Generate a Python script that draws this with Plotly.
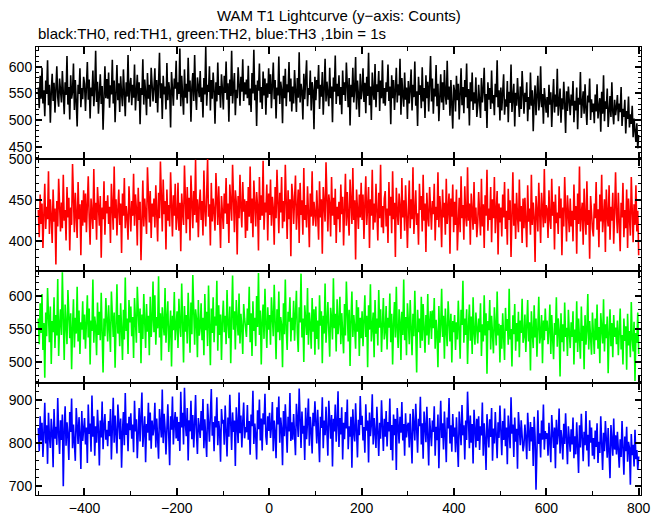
import numpy as np
import plotly.graph_objects as go
from plotly.subplots import make_subplots

# ---- data: counts per bin (TH0..TH3) ----
th0 = [
561, 522, 583, 540, 598, 531, 556, 507, 574, 549, 612, 528, 566, 495, 553, 587, 536, 570, 514, 559, 601, 543, 525, 578, 548,
533, 592, 556, 511, 571, 547, 620, 529, 562, 501, 584, 540, 553, 606, 519, 575, 535, 488, 566, 549, 597, 524, 560, 539, 581,
568, 517, 552, 609, 538, 576, 503, 561, 545, 593, 526, 557, 630, 534, 572, 512, 549, 586, 530, 564, 482, 555, 601, 541, 577,
540, 589, 523, 565, 548, 613, 531, 574, 496, 558, 603, 537, 569, 515, 582, 549, 526, 595, 560, 507, 571, 544, 622, 533, 563,
579, 528, 566, 542, 604, 518, 557, 585, 536, 571, 492, 560, 547, 614, 529, 576, 551, 509, 588, 540, 566, 525, 598, 553, 535,
561, 597, 532, 575, 514, 556, 626, 541, 569, 502, 583, 548, 563, 520, 607, 537, 571, 555, 486, 590, 544, 527, 578, 559, 611,
538, 571, 549, 634, 526, 583, 557, 510, 595, 542, 568, 531, 617, 553, 574, 497, 561, 588, 536, 622, 549, 519, 580, 565, 543,
592, 534, 561, 505, 579, 548, 637, 527, 566, 553, 601, 518, 575, 540, 589, 556, 493, 571, 535, 608, 547, 564, 523, 586, 558,
520, 583, 551, 610, 538, 569, 497, 576, 545, 630, 531, 562, 588, 509, 557, 541, 599, 566, 527, 581, 553, 614, 536, 571, 548,
576, 541, 602, 528, 559, 515, 588, 550, 632, 537, 566, 489, 574, 555, 606, 533, 562, 521, 591, 546, 578, 510, 569, 542, 597,
549, 586, 522, 565, 608, 539, 575, 503, 561, 546, 619, 530, 572, 557, 494, 583, 541, 596, 526, 567, 552, 609, 535, 578, 516,
563, 531, 594, 548, 515, 579, 542, 627, 533, 568, 554, 501, 587, 539, 573, 612, 526, 560, 547, 593, 518, 571, 556, 483, 581,
537, 575, 559, 603, 521, 566, 544, 590, 510, 557, 615, 535, 572, 549, 526, 598, 541, 563, 496, 580, 553, 621, 530, 568, 545,
584, 529, 562, 511, 593, 547, 571, 536, 608, 552, 524, 579, 490, 566, 543, 598, 533, 557, 618, 520, 574, 548, 506, 587, 539,
556, 597, 534, 570, 513, 581, 545, 626, 528, 563, 500, 589, 551, 538, 605, 524, 567, 553, 592, 517, 574, 541, 612, 531, 560,
527, 571, 553, 604, 536, 563, 492, 584, 541, 575, 519, 556, 598, 533, 567, 546, 615, 510, 579, 548, 525, 589, 538, 561, 502,
573, 531, 558, 595, 518, 566, 543, 610, 527, 554, 489, 581, 547, 565, 522, 599, 535, 560, 504, 584, 541, 572, 516, 553, 620,
535, 578, 512, 559, 544, 603, 526, 568, 498, 551, 586, 533, 571, 519, 594, 547, 529, 611, 538, 563, 508, 575, 542, 484, 566,
554, 516, 583, 537, 568, 501, 549, 597, 528, 562, 513, 575, 543, 606, 522, 558, 490, 571, 535, 589, 519, 552, 531, 580, 506,
527, 566, 541, 504, 579, 533, 555, 598, 517, 549, 485, 571, 538, 560, 521, 593, 531, 547, 509, 568, 543, 612, 524, 556, 499,
561, 518, 547, 586, 510, 539, 525, 573, 496, 553, 532, 604, 515, 544, 568, 488, 551, 527, 579, 540, 506, 563, 521, 592, 535,
512, 551, 534, 571, 498, 543, 520, 589, 527, 556, 479, 538, 565, 509, 547, 583, 518, 536, 601, 524, 549, 493, 560, 531, 514,
543, 505, 566, 529, 552, 487, 538, 577, 514, 548, 525, 596, 508, 534, 559, 495, 541, 520, 572, 531, 476, 554, 517, 563, 529,
509, 548, 527, 573, 496, 536, 518, 561, 483, 542, 529, 590, 504, 531, 554, 512, 567, 521, 491, 546, 533, 578, 500, 539, 515,
531, 494, 548, 516, 567, 503, 525, 541, 478, 553, 512, 584, 498, 535, 521, 559, 487, 529, 545, 506, 571, 515, 492, 538, 509,
524, 547, 498, 531, 515, 562, 489, 521, 506, 538, 475, 517, 502, 544, 486, 511, 493, 527, 468, 503, 481, 459, 494, 447, 472,
]
th1 = [
438, 405, 457, 421, 446, 392, 433, 470, 415, 442, 427, 485, 409, 451, 430, 398, 463, 424, 440, 372, 449, 418, 476, 434, 412,
447, 416, 481, 425, 438, 401, 466, 429, 453, 389, 441, 420, 494, 432, 411, 459, 436, 404, 472, 427, 445, 383, 450, 419, 462,
423, 458, 411, 444, 479, 429, 396, 452, 437, 415, 488, 426, 447, 402, 466, 433, 419, 455, 380, 441, 427, 473, 408, 449, 434,
456, 421, 442, 398, 470, 435, 414, 491, 428, 451, 407, 439, 463, 420, 446, 386, 458, 431, 477, 416, 443, 429, 402, 467, 438,
412, 449, 431, 482, 419, 457, 440, 395, 465, 426, 448, 377, 437, 474, 418, 452, 433, 409, 490, 441, 423, 461, 404, 446, 430,
452, 417, 468, 436, 400, 459, 428, 497, 441, 412, 475, 433, 449, 390, 463, 425, 444, 418, 484, 437, 406, 456, 431, 470, 414,
429, 471, 413, 447, 388, 458, 435, 420, 492, 442, 410, 466, 427, 453, 401, 480, 438, 416, 461, 432, 499, 423, 451, 405, 444,
463, 426, 449, 407, 486, 439, 418, 457, 500, 430, 445, 395, 471, 424, 452, 436, 413, 483, 441, 420, 467, 429, 392, 455, 437,
415, 458, 434, 477, 421, 446, 398, 469, 439, 425, 493, 433, 411, 462, 447, 384, 455, 428, 481, 440, 417, 472, 436, 451, 404,
449, 413, 466, 430, 491, 422, 452, 405, 474, 437, 418, 460, 443, 389, 478, 426, 456, 431, 498, 414, 447, 435, 469, 401, 458,
432, 475, 419, 454, 440, 396, 466, 428, 487, 443, 410, 459, 435, 478, 416, 449, 424, 493, 438, 403, 462, 427, 451, 382, 470,
455, 421, 446, 480, 414, 439, 463, 398, 471, 432, 450, 408, 489, 426, 444, 417, 467, 436, 393, 458, 430, 485, 419, 448, 437,
418, 462, 437, 402, 473, 429, 451, 385, 466, 440, 424, 496, 433, 412, 457, 445, 406, 478, 431, 453, 420, 464, 398, 442, 427,
448, 411, 469, 433, 454, 395, 441, 482, 419, 460, 430, 407, 475, 438, 421, 489, 426, 450, 378, 463, 436, 415, 457, 429, 471,
426, 457, 403, 445, 479, 420, 438, 466, 392, 451, 431, 487, 414, 446, 423, 470, 436, 401, 459, 428, 493, 417, 443, 410, 452,
461, 418, 440, 398, 472, 431, 454, 410, 485, 427, 447, 381, 465, 436, 420, 458, 442, 403, 477, 429, 450, 413, 468, 434, 392,
437, 474, 416, 451, 427, 490, 409, 443, 462, 420, 434, 396, 470, 438, 455, 412, 481, 425, 446, 387, 459, 431, 418, 466, 440,
414, 449, 433, 470, 401, 442, 426, 484, 417, 455, 436, 393, 463, 429, 447, 408, 476, 421, 439, 458, 385, 452, 430, 469, 411,
448, 420, 463, 389, 437, 453, 411, 479, 428, 444, 402, 467, 431, 418, 490, 425, 446, 396, 458, 433, 414, 472, 421, 441, 405,
422, 460, 434, 407, 476, 418, 445, 392, 456, 431, 487, 413, 440, 426, 466, 399, 451, 428, 478, 410, 437, 461, 384, 446, 423,
441, 406, 457, 429, 472, 415, 437, 396, 464, 426, 450, 381, 433, 484, 419, 446, 403, 459, 430, 411, 475, 424, 443, 398, 452,
416, 453, 431, 393, 468, 424, 440, 408, 481, 420, 447, 429, 375, 455, 436, 412, 471, 427, 398, 459, 433, 417, 488, 422, 444,
439, 404, 462, 427, 415, 476, 431, 448, 390, 457, 422, 435, 409, 467, 428, 452, 383, 441, 418, 478, 426, 400, 456, 433, 411,
452, 418, 437, 400, 469, 426, 443, 385, 458, 421, 491, 412, 434, 447, 396, 464, 429, 408, 473, 420, 438, 379, 455, 427, 415,
406, 446, 428, 472, 414, 439, 393, 457, 424, 481, 411, 436, 451, 387, 463, 430, 418, 468, 402, 442, 425, 459, 397, 435, 484,
433, 410, 459, 421, 388, 447, 429, 471, 405, 438, 416, 463, 392, 452, 425, 407, 478, 431, 399, 445, 420, 468, 412, 437, 383,
]
th2 = [
566, 527, 589, 544, 603, 518, 559, 476, 575, 539, 612, 551, 530, 584, 497, 562, 545, 598, 521, 571, 540, 626, 509, 556, 580,
541, 636, 565, 503, 587, 548, 527, 609, 559, 536, 574, 489, 553, 595, 522, 567, 543, 614, 531, 578, 512, 560, 549, 592, 534,
572, 520, 558, 601, 537, 581, 496, 563, 547, 625, 529, 569, 553, 510, 590, 541, 576, 533, 605, 552, 484, 566, 539, 597, 558,
531, 586, 549, 515, 607, 562, 538, 575, 491, 556, 618, 543, 571, 524, 589, 550, 503, 579, 534, 628, 547, 566, 512, 594, 560,
584, 539, 568, 506, 597, 550, 529, 614, 561, 544, 581, 498, 572, 535, 603, 555, 521, 588, 546, 570, 510, 599, 538, 563, 622,
545, 601, 526, 568, 551, 630, 537, 574, 502, 583, 559, 540, 612, 529, 566, 592, 515, 557, 578, 493, 570, 548, 606, 533, 562,
577, 521, 596, 555, 538, 619, 563, 499, 585, 546, 571, 528, 605, 559, 514, 590, 542, 632, 553, 526, 580, 565, 507, 594, 540,
552, 589, 533, 567, 510, 603, 548, 576, 524, 616, 561, 495, 581, 544, 598, 530, 569, 555, 623, 517, 586, 541, 572, 503, 564,
593, 545, 570, 527, 609, 558, 536, 584, 498, 565, 631, 549, 577, 519, 594, 562, 540, 604, 528, 573, 553, 512, 588, 566, 546,
538, 581, 556, 614, 530, 574, 509, 592, 547, 567, 524, 600, 553, 635, 541, 578, 496, 563, 587, 535, 611, 558, 521, 583, 549,
571, 526, 598, 552, 539, 617, 562, 504, 580, 545, 607, 533, 568, 556, 492, 589, 542, 625, 550, 518, 576, 561, 598, 531, 567,
548, 593, 532, 571, 608, 544, 515, 583, 560, 634, 537, 566, 500, 586, 553, 541, 612, 526, 575, 557, 520, 597, 546, 580, 511,
584, 535, 563, 519, 601, 555, 577, 498, 570, 543, 619, 529, 561, 591, 547, 508, 582, 566, 534, 627, 551, 573, 516, 595, 542,
560, 599, 527, 574, 549, 513, 588, 540, 622, 555, 531, 579, 494, 565, 607, 538, 571, 552, 520, 594, 546, 583, 509, 567, 536,
577, 524, 563, 601, 538, 570, 492, 586, 549, 618, 531, 559, 575, 507, 594, 543, 566, 525, 609, 552, 580, 515, 561, 597, 534,
546, 585, 519, 567, 552, 604, 530, 573, 496, 558, 591, 537, 614, 548, 521, 580, 562, 503, 576, 541, 625, 533, 568, 510, 589,
562, 527, 594, 548, 510, 573, 539, 608, 555, 484, 579, 545, 566, 521, 599, 532, 588, 550, 514, 571, 540, 603, 526, 560, 577,
535, 578, 551, 597, 520, 564, 543, 492, 585, 529, 556, 611, 538, 570, 505, 581, 547, 524, 592, 558, 531, 573, 499, 562, 545,
571, 518, 560, 534, 593, 547, 505, 579, 556, 623, 529, 566, 541, 580, 497, 553, 587, 532, 569, 512, 598, 544, 526, 575, 538,
528, 566, 545, 589, 509, 557, 531, 601, 540, 574, 482, 562, 548, 594, 519, 570, 536, 513, 583, 551, 525, 607, 540, 558, 499,
556, 520, 574, 539, 503, 582, 547, 565, 526, 611, 534, 550, 493, 571, 542, 588, 517, 559, 531, 576, 507, 563, 544, 596, 529,
539, 572, 515, 553, 594, 531, 560, 487, 577, 544, 521, 586, 537, 566, 508, 552, 599, 528, 541, 571, 498, 563, 533, 581, 547,
563, 527, 548, 587, 512, 571, 535, 504, 559, 541, 598, 523, 566, 549, 478, 574, 530, 557, 516, 590, 538, 552, 509, 579, 544,
521, 560, 538, 577, 496, 549, 529, 592, 515, 566, 542, 505, 584, 532, 555, 489, 571, 526, 548, 603, 519, 562, 537, 511, 575,
549, 512, 566, 533, 587, 520, 553, 498, 574, 541, 528, 595, 516, 557, 536, 569, 483, 545, 580, 524, 559, 507, 571, 538, 552,
527, 563, 510, 548, 581, 519, 541, 496, 566, 532, 554, 488, 573, 525, 547, 507, 591, 535, 516, 561, 471, 544, 529, 575, 512,
]
th3 = [
835, 781, 862, 806, 847, 768, 824, 893, 799, 841, 752, 870, 815, 789, 856, 827, 744, 879, 810, 838, 796, 904, 822, 775, 853,
807, 866, 700, 831, 885, 794, 848, 819, 761, 872, 826, 903, 788, 843, 812, 759, 881, 833, 798, 860, 822, 740, 874, 805, 849,
858, 797, 836, 754, 889, 821, 845, 780, 910, 815, 862, 771, 839, 801, 877, 829, 748, 852, 813, 896, 786, 840, 867, 808, 831,
793, 851, 816, 879, 762, 838, 905, 801, 864, 822, 776, 889, 834, 809, 857, 743, 826, 872, 795, 916, 819, 846, 781, 861, 830,
869, 810, 843, 779, 898, 827, 855, 765, 837, 881, 804, 850, 917, 791, 835, 862, 756, 844, 824, 893, 806, 871, 787, 852, 818,
836, 893, 790, 857, 821, 764, 879, 842, 813, 924, 800, 868, 835, 774, 855, 890, 818, 749, 862, 831, 908, 797, 846, 872, 811,
861, 805, 849, 782, 919, 836, 870, 797, 928, 843, 816, 881, 760, 853, 827, 898, 809, 865, 790, 842, 911, 823, 775, 858, 834,
812, 874, 829, 902, 788, 855, 821, 768, 891, 840, 803, 866, 925, 817, 849, 781, 862, 836, 906, 795, 851, 828, 757, 879, 845,
854, 796, 887, 833, 769, 859, 815, 912, 842, 784, 871, 826, 852, 747, 883, 838, 800, 917, 823, 864, 790, 848, 894, 811, 837,
825, 888, 808, 851, 773, 866, 839, 921, 798, 845, 819, 762, 876, 832, 901, 806, 857, 783, 869, 843, 914, 815, 796, 862, 828,
870, 812, 839, 895, 781, 852, 824, 765, 883, 843, 908, 801, 859, 834, 749, 874, 816, 890, 837, 778, 861, 827, 916, 805, 848,
808, 867, 831, 772, 891, 845, 814, 926, 856, 789, 873, 822, 840, 761, 882, 809, 850, 903, 794, 861, 831, 776, 870, 839, 897,
844, 799, 877, 823, 756, 861, 835, 906, 788, 852, 818, 884, 829, 771, 898, 841, 810, 865, 746, 856, 827, 889, 803, 846, 920,
791, 858, 820, 883, 762, 847, 809, 872, 834, 901, 786, 839, 815, 861, 743, 878, 826, 804, 892, 833, 767, 854, 818, 909, 842,
863, 806, 837, 778, 890, 829, 852, 755, 871, 816, 843, 913, 797, 858, 824, 789, 884, 831, 770, 847, 810, 899, 835, 782, 856,
815, 874, 792, 849, 827, 903, 784, 842, 760, 866, 818, 856, 738, 881, 832, 799, 861, 824, 895, 806, 844, 771, 869, 813, 840,
847, 790, 868, 812, 753, 879, 831, 806, 891, 824, 778, 856, 839, 907, 797, 846, 764, 873, 817, 802, 884, 829, 748, 858, 821,
793, 852, 826, 885, 771, 838, 807, 866, 742, 831, 898, 812, 846, 785, 873, 820, 756, 859, 834, 904, 799, 841, 780, 867, 815,
836, 779, 860, 814, 745, 873, 826, 795, 888, 818, 841, 762, 852, 807, 919, 830, 788, 864, 801, 844, 753, 877, 822, 790, 856,
805, 862, 784, 839, 818, 894, 771, 846, 808, 738, 867, 826, 790, 855, 814, 881, 759, 834, 799, 872, 823, 765, 848, 812, 887,
829, 772, 851, 807, 880, 793, 836, 751, 864, 817, 788, 906, 822, 843, 768, 859, 803, 833, 741, 872, 811, 795, 853, 820, 781,
796, 843, 811, 763, 870, 826, 782, 849, 804, 837, 747, 861, 815, 692, 831, 876, 798, 823, 767, 852, 808, 889, 785, 828, 810,
823, 771, 847, 802, 756, 865, 815, 789, 836, 742, 854, 797, 821, 880, 776, 830, 809, 762, 845, 798, 869, 818, 751, 839, 794,
780, 832, 797, 859, 765, 816, 774, 848, 805, 731, 841, 790, 868, 812, 758, 826, 795, 874, 783, 819, 746, 853, 801, 836, 771,
812, 763, 829, 791, 846, 754, 803, 777, 862, 795, 738, 824, 781, 851, 808, 766, 835, 790, 719, 842, 800, 771, 857, 785, 818,
774, 826, 789, 743, 809, 768, 851, 792, 727, 815, 781, 838, 757, 803, 789, 704, 821, 772, 796, 746, 831, 763, 784, 738, 769,
]

series = [th0, th1, th2, th3]
colors = ["#000000", "#ff0000", "#00ff00", "#0000ff"]
t_start, t_end = -500, 800
y_ranges = [[427, 637], [364, 500.01], [468, 638], [680, 939]]
y_major = [50, 50, 50, 100]
y_minor = [10, 10, 10, 20]
x_range = [-505, 805]

FONT = "Liberation Sans"

fig = make_subplots(rows=4, cols=1, shared_xaxes=True, vertical_spacing=0)

for i, (vals, col) in enumerate(zip(series, colors)):
    t = np.linspace(t_start, t_end, len(vals))
    fig.add_trace(go.Scatter(x=t, y=vals, mode="lines",
                             line=dict(color=col, width=1.6),
                             showlegend=False, hoverinfo="skip"),
                  row=i + 1, col=1)
    fig.update_yaxes(range=y_ranges[i], dtick=y_major[i], tick0=0,
                     ticks="inside", ticklen=6, tickwidth=2, tickcolor="black",
                     minor=dict(dtick=y_minor[i], tick0=0, ticks="inside",
                                ticklen=3, tickwidth=1, tickcolor="black"),
                     showline=True, linecolor="black", linewidth=1,
                     mirror="allticks", showgrid=False, zeroline=False,
                     automargin=False,
                     tickfont=dict(family=FONT, size=14, color="black"),
                     row=i + 1, col=1)
    fig.update_xaxes(range=x_range, dtick=200, tick0=0,
                     ticks="inside", ticklen=7, tickwidth=2, tickcolor="black",
                     minor=dict(dtick=100, tick0=0, ticks="inside",
                                ticklen=4, tickwidth=1, tickcolor="black"),
                     showline=True, linecolor="black", linewidth=1,
                     mirror="allticks", showgrid=False, zeroline=False,
                     automargin=False,
                     tickfont=dict(family=FONT, size=14, color="black"),
                     row=i + 1, col=1)

fig.update_layout(
    width=665, height=515,
    margin=dict(l=28, r=32, t=39, b=28, autoexpand=False),
    paper_bgcolor="white", plot_bgcolor="white",
    font=dict(family=FONT, color="black"),
    annotations=[
        dict(text="WAM T1 Lightcurve (y\u2212axis: Counts)", x=0.5, y=1,
             xref="paper", yref="paper", yanchor="bottom", yshift=21,
             showarrow=False, font=dict(family=FONT, size=15, color="black")),
        dict(text="black:TH0, red:TH1, green:TH2, blue:TH3 ,1bin = 1s", x=0, y=1,
             xref="paper", yref="paper", xanchor="left", yanchor="bottom", yshift=3,
             showarrow=False, font=dict(family=FONT, size=15, color="black")),
    ],
)

fig.write_html("out.html")
